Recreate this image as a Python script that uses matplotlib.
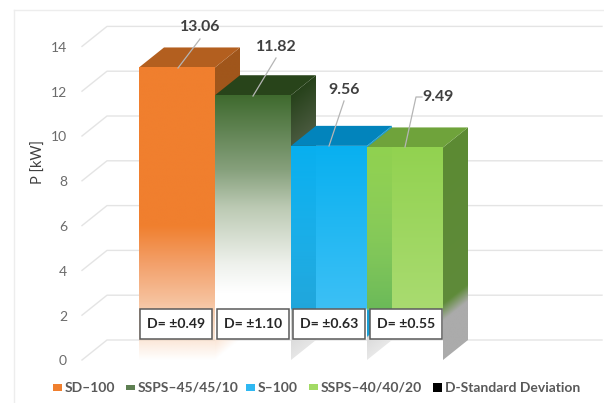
import matplotlib
matplotlib.use("Agg")
import matplotlib.pyplot as plt
import numpy as np
from matplotlib.colors import to_rgba
from matplotlib.patches import Polygon, Rectangle

plt.rcParams["font.family"] = ["Lato", "DejaVu Sans"]

series = ["SD–100", "SSPS–45/45/10", "S–100", "SSPS–40/40/20"]
power = [13.06, 11.82, 9.56, 9.49]
deviation = [0.49, 1.10, 0.63, 0.55]
y_ticks = [0, 2, 4, 6, 8, 10, 12, 14]
legend_extra = "D-Standard Deviation"

# Chart geometry in pixels
W, H = 604, 403
X0, BAR_W = 139, 76
Y0, UNIT = 360, 22.4
DX_PX, DY_PX = 25, 20
DX, DY = DX_PX / BAR_W, DY_PX / UNIT


def xd(px):
    return (px - X0) / BAR_W


def yd(py):
    return (Y0 - py) / UNIT


# Vertical colour ramps, (height, colour, alpha)
front_ramps = [
    [(0, "#F8CFB0", 0), (0.9, "#F8CFB0", 0.5), (2.6, "#F6C29E", 1), (4.3, "#F3A06A", 1), (6.0, "#F07F2E", 1),
     (14, "#F07F2E", 1)],
    [(0.9, "#FFFFFF", 0), (0.95, "#FFFFFF", 1), (3, "#FFFFFF", 1), (4.3, "#EEF1EC", 1), (6.8, "#BCCAB4", 1),
     (8.5, "#86A07C", 1), (11.82, "#3F6A2E", 1)],
    [(2.2, "#3CC0F5", 0), (2.3, "#3CC0F5", 1), (9.56, "#08B0F0", 1)],
    [(2.2, "#A9DB70", 0), (2.3, "#A9DB70", 1), (9.49, "#92D250", 1)],
]
side_ramps = [
    [(0, "#FBE3D2", 0), (0.95, "#FBE3D2", 1), (1.0, "#A0561B", 1), (14, "#A0561B", 1)],
    [(0, "#E6E6E6", 1), (1.0, "#DADADA", 1), (9.5, "#4A5A3F", 1), (11.82, "#26411A", 1)],
    [(0, "#E8E8E8", 1), (1.0, "#DADADA", 1), (1.05, "#1A9FD5", 1), (14, "#1A9FD5", 1)],
    [(0, "#ABABAB", 1), (1.75, "#ABABAB", 1), (2.5, "#5F8B3A", 1), (9.49, "#5C8A33", 1)],
]
top_colors = ["#B35F1F", "#28441A", "#0284BC", "#6FA33B"]
strip_ramps = {
    2: [(2.25, "#1A9FD5", 0), (2.3, "#1FA5DA", 0.95), (9.56, "#08AEEE", 0.3)],
    3: [(2.25, "#5FB450", 0), (2.3, "#68B858", 0.95), (9.49, "#8CD050", 0.3)],
}


def ramp_image(t, ramp):
    heights = [r[0] for r in ramp]
    rgba = np.array([to_rgba(r[1], r[2]) for r in ramp])
    return np.dstack([np.interp(t, heights, rgba[:, c]) for c in range(4)])


def face(ax, verts, ramp, z):
    verts = np.array(verts)
    x0, x1 = verts[:, 0].min(), verts[:, 0].max()
    y0, y1 = verts[:, 1].min(), verts[:, 1].max()
    xs = np.linspace(x0, x1, 60)
    ys = np.linspace(y1, y0, 500)
    xx, yy = np.meshgrid(xs, ys)
    # Side faces climb with depth, so the ramp follows their slanted edge
    slope = (verts[1, 1] - verts[0, 1]) / (verts[1, 0] - verts[0, 0]) if verts[1, 0] != verts[0, 0] else 0
    t = yy - slope * (xx - verts[0, 0])
    im = ax.imshow(ramp_image(t, ramp), extent=(x0, x1, y0, y1), aspect="auto", zorder=z, interpolation="bilinear")
    clip = Polygon(verts, closed=True, facecolor="none", edgecolor="none", transform=ax.transData, zorder=z)
    ax.add_patch(clip)
    im.set_clip_path(clip)


fig = plt.figure(figsize=(W / 100, H / 100), dpi=100)
ax = fig.add_axes([0, 0, 1, 1])
ax.axis("off")

# Chart frame
ax.plot([xd(14), xd(14)], [yd(H), yd(10)], color="#EDEDED", lw=1, zorder=1)
ax.plot([xd(14), xd(W)], [yd(10), yd(10)], color="#EDEDED", lw=1, zorder=1)

# Floor-to-wall gridlines and value axis
for tick in y_ticks:
    ax.plot([xd(82), xd(82) + DX, xd(602)], [tick, tick + DY, tick + DY], color="#E4E4E4", lw=1, zorder=1)
    ax.text(xd(67), tick - 0.06, str(tick), ha="right", va="center", fontsize=10, color="#6B6B6B", zorder=20)
ax.text(xd(39), yd(162), "P [kW]", rotation=90, ha="center", va="center", fontsize=10.5, color="#404040", zorder=20)

# Bars, left to right so each front hides its neighbour's side
z = 2
for i, value in enumerate(power):
    side = [(i + 1, 0), (i + 1 + DX, DY), (i + 1 + DX, value + DY), (i + 1, value)]
    face(ax, side, side_ramps[i], z)
    ax.add_patch(Polygon([(i, value), (i + 1, value), (i + 1 + DX, value + DY), (i + DX, value + DY)],
                         closed=True, facecolor=top_colors[i], edgecolor="none", zorder=z + 1))
    front = [(i, 0), (i + 1, 0), (i + 1, value), (i, value)]
    face(ax, front, front_ramps[i], z + 2)
    if i in strip_ramps:
        strip = [(i, 0), (i + DX, 0), (i + DX, value), (i, value)]
        face(ax, strip, strip_ramps[i], z + 3)
    z += 4

# Value labels with leader lines
label_xy = [(200, 27), (276, 47), (344, 90), (438, 97)]
leaders = [
    [(200, 39), (178, 68)],
    [(276, 58), (253, 96)],
    [(344, 101), (329, 146)],
    [(422, 97), (416, 97), (405, 147)],
]
for value, (lx, ly), path in zip(power, label_xy, leaders):
    ax.text(xd(lx), yd(ly), f"{value:.2f}", ha="center", va="center", fontsize=11.4, fontweight="bold",
            color="#404040", zorder=40)
    ax.plot([xd(p[0]) for p in path], [yd(p[1]) for p in path], color="#B5B5B5", lw=0.9, zorder=40)

# Standard deviation boxes
box_left = [140, 217, 293, 370]
for sd, left in zip(deviation, box_left):
    ax.add_patch(Rectangle((xd(left), yd(339)), 72 / BAR_W, 30.5 / UNIT, facecolor="white", edgecolor="#5A5A5A",
                           lw=1.1, zorder=50))
    ax.text(xd(left + 36), yd(323.5), f"D= ±{sd:.2f}", ha="center", va="center", fontsize=10.1, fontweight="bold",
            color="#262626", zorder=51)

# Legend row
legend_labels = series + [legend_extra]
legend_colors = ["#F07F2E", "#5E7F52", "#2FB8F2", "#A2DA64", "#000000"]
legend_x = [53, 126, 246, 309, 433]
legend_h = [7, 5, 7, 6, 9]
for label, color, lx, lh in zip(legend_labels, legend_colors, legend_x, legend_h):
    ax.add_patch(Rectangle((xd(lx), yd(387 + lh / 2)), 9 / BAR_W, lh / UNIT, facecolor=color, edgecolor="none",
                           zorder=60))
    ax.text(xd(lx + 12), yd(387.5), label, ha="left", va="center", fontsize=10, fontweight="bold",
            color="#595959", zorder=60)

ax.set_xlim(xd(0), xd(W))
ax.set_ylim(yd(H), yd(0))
fig.savefig("out.png", dpi=100, facecolor="white")
